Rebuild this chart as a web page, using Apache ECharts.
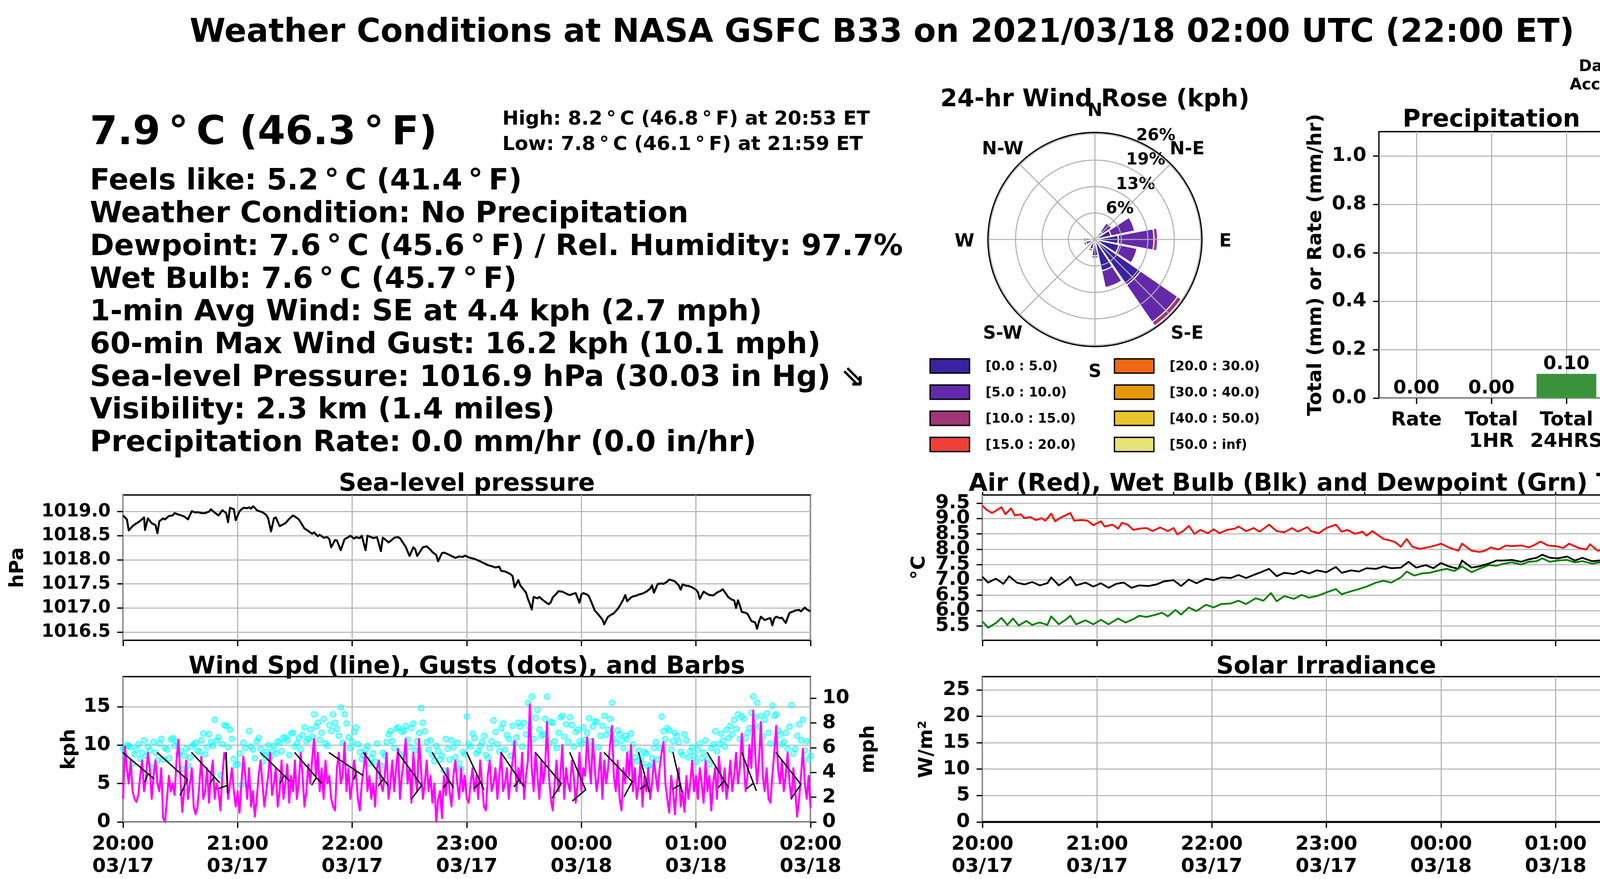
<!DOCTYPE html>
<html><head><meta charset="utf-8">
<script src="https://cdn.jsdelivr.net/npm/echarts/dist/echarts.min.js"></script>
<style>html,body{margin:0;padding:0;background:#fff}#c{width:4500px;height:2250px}</style>
</head><body><div id="c"></div><script>
// ---------------- DATA ----------------
const timeTickLabels = ['20:00\n03/17','21:00\n03/17','22:00\n03/17','23:00\n03/17','00:00\n03/18','01:00\n03/18','02:00\n03/18'];

const pressureTime = [0,2,3,5,6,8,9,11,11.5,13, 15,17,18,19,21,22,24,26,27,29, 30,32,34,36,38,39,41,43,45,46, 48,49,50,52,54,55,56,58,59,61,
 63,65,66,67,68,69,70,72,73,75, 76,77.5,79,80,82,84,85,87,89,90, 92,93,95,97,99,100,102,103,105,107, 108,109,111,112,114,116,118,119,121,122,
 124,125,127,128,130,131,133,135,136,138, 139,141,142,144,145,147,148,150,152,153, 154,156,157,159,161,162,164,165,167,168, 170,172,174,176,178,179,181,182,184,187,
 189,191,193,195,197,198,200,201,203,204, 205,207,208,209,211,212,213,214,215,217, 218,220,222,223,224,225,227,228,230,231, 233,234,236,237,239,240,241,243,244,246,
 247,249,250,251,252,253,254,256,257,259, 260,262,263,264,266,267,269,270,272,274, 276,277,278,280,282,283,285,286,288,289, 291,292,293,295,296,298,300,301,302,304,
 306,307,309,310,311,313,314,316,317,319, 320,321,322,323,324,326,327,329,331,332, 333,334,336,338,339,340,341,342,344,345, 347,348,349,351,352,354,355,357,358,360];
const pressureHpa = [1018.92,1018.84,1018.61,1018.70,1018.73,1018.78,1018.81,1018.88,1018.62,1018.86,
 1018.76,1018.72,1018.55,1018.80,1018.86,1018.84,1018.91,1018.92,1018.97,1018.94,
 1018.93,1018.90,1018.84,1019.01,1018.98,1018.99,1018.97,1018.97,1019.00,1019.05,
 1018.98,1018.95,1018.92,1019.03,1018.97,1018.78,1019.08,1019.05,1018.82,1019.01,
 1019.08,1019.07,1019.09,1019.06,1019.11,1019.08,1019.03,1019.00,1018.99,1018.93,
 1018.86,1018.59,1018.86,1018.88,1018.70,1018.74,1018.76,1018.85,1018.92,1018.90,
 1018.84,1018.78,1018.65,1018.60,1018.54,1018.57,1018.49,1018.52,1018.46,1018.47,
 1018.43,1018.26,1018.41,1018.40,1018.20,1018.43,1018.47,1018.50,1018.44,1018.47,
 1018.45,1018.50,1018.20,1018.50,1018.47,1018.45,1018.47,1018.18,1018.46,1018.40,
 1018.36,1018.42,1018.46,1018.47,1018.45,1018.33,1018.27,1018.08,1018.26,1018.22,
 1018.08,1018.20,1018.26,1018.28,1018.21,1018.16,1018.10,1017.97,1018.14,1018.15,
 1018.12,1018.08,1018.04,1018.07,1018.06,1018.09,1018.05,1018.04,1018.02,1017.97,
 1017.93,1017.89,1017.87,1017.84,1017.86,1017.77,1017.76,1017.74,1017.70,1017.66,
 1017.43,1017.58,1017.47,1017.42,1017.32,1017.19,1017.09,1016.97,1017.23,1017.20,
 1017.23,1017.16,1017.10,1017.08,1017.12,1017.22,1017.30,1017.35,1017.34,1017.32,
 1017.28,1017.27,1017.30,1017.31,1017.11,1017.28,1017.31,1017.28,1017.24,1017.05,
 1016.95,1016.86,1016.81,1016.76,1016.66,1016.75,1016.82,1016.87,1016.89,1016.98,
 1017.04,1017.18,1017.27,1017.14,1017.22,1017.24,1017.26,1017.28,1017.30,1017.34,
 1017.40,1017.47,1017.32,1017.50,1017.51,1017.50,1017.55,1017.59,1017.57,1017.55,
 1017.47,1017.38,1017.49,1017.46,1017.46,1017.43,1017.38,1017.33,1017.19,1017.34,
 1017.29,1017.27,1017.26,1017.29,1017.32,1017.36,1017.39,1017.28,1017.22,1017.17,
 1017.16,1017.00,1017.16,1017.05,1016.92,1016.90,1016.88,1016.73,1016.70,1016.57,
 1016.72,1016.82,1016.75,1016.78,1016.79,1016.64,1016.78,1016.82,1016.79,1016.80,
 1016.69,1016.80,1016.90,1016.93,1016.95,1016.96,1016.93,1017.01,1016.97,1016.93];
const pressureTicks = [1016.5,1017.0,1017.5,1018.0,1018.5,1019.0];

// wind speed, one value per minute from 20:00 (kph)
const windSpeed = [
 3,9.8,7,5,8,4,3,2.6,3.5,6,8,4,5.5,9,7,3,6,8,5,4,
 7,0.5,0,3,6,4,5,3.5,8,10.7,6,1.3,4,8,3,5,7,2,1,2,
 5,8.5,3,4,7,2.5,6,8,3,5,4,1.5,6,9,8,3,5,7,4,2,
 4,1.2,5,8.5,6,3,7,2,4,0.7,3,6,8,5,2,4,6,9,3.5,5,
 7,2,4,8,3,5,7.5,2.5,6,4,8,3,5,9,6,2,4,7.5,5,8,
 10.8,6,9,4,7,3,8,5,6,3,2,1.5,7,9,5,6,10.3,4,7,3,
 5,8,6,3,1.5,5,7,9,4,6,3,5,2,7,8,5,4,6,9,3,
 5,8,4,7,9.5,3,6,8,10.8,5,7,2.5,9,6,4,10.8,7,3,5,8,
 4,6,2.5,5,0,3,4,0.5,6,3.5,7,4,2,6,8,5,3,7,4,6,
 3,2.5,5,7,4,6,3,8,5,2,1.5,6,8,4,5,7,3,6,9,4,
 5,7,3,6,8,10.5,4,7,5,9,3,6,8,15.3,7,4,9,6,3,8,
 5,7,13,6,3,1.5,5,8,4,6,10,3,7,5,4,8,6,2.5,5,9,
 4,7,6,11,8,5,10.8,7,4,6,9,3,8,5,7,10,12.5,6,4,8,
 3,1.5,7,5,9,6,10,4,7,3,5,8,2,6,4,7,3,5,8,6,
 4,7,9,10.4,5,3,1.2,6,4,1,5,7,2,4,1.3,6,3,5,8,4,
 6,3,7,5,2.5,8,4,6,1.5,5,7,3,8.5,6,4,7,3,5,8,4,
 6,9,5,7,11.5,8,4,6,10,7,14.5,9,5,8,13,6,4,7,3,2.5,
 6,9,12.5,7,5,8,4,6,9,5,3,7,4,0.7,3,6,9.5,5,3,6,
 1.8];
// gusts at even minutes (0,2,...,360) and odd minutes (1,3,...,359), kph
const gustEvenMin = [
 9.5,10,9.7,8.8,10.1,9,8.6,9.3,10.4,8,
 10.8,9.6,8.3,10.9,10.5,9.2,8.6,7.3,9.8,10.3,
 9.1,11.5,9.7,10.4,13.3,11,10.1,12.5,12,8.2,
 7.5,4.8,9.6,11.8,9.4,10.5,9.5,8.7,10,9.2,
 8.9,10.3,11,10.6,11.5,9.8,10.9,11.3,10.5,12,
 14,12.9,11.6,10.2,12.6,14,12.1,14.9,14,11,
 10.4,12.3,9.1,8.6,9.9,8.3,7.8,6,9,10.4,
 11.8,9.6,12.3,11.7,12.5,9.8,12.8,10.5,14.8,11.8,
 9.4,8.7,9.9,8.1,6.7,9.5,10.6,8.4,7.6,9.1,
 13.7,9.8,10.9,9.2,10.4,8.7,9.6,13.2,10.1,12.2,
 9.4,10.8,12.5,11,12.4,12.9,15.5,16.3,13.5,12,
 11.4,16.3,13,10.5,11.6,13.8,12.7,13.6,9.8,12,
 10.1,10.7,13.5,12.4,13,11.2,13.8,12,15.5,10.2,
 11.4,9.6,10.8,11.5,8.4,9.3,7.6,8.9,7.4,9.6,
 8.1,13.7,10.8,11.9,10.5,11.2,9.1,11.4,8.4,9.7,
 7.8,10.2,9,8.2,9.6,11.8,10.1,10.6,12,12.5,
 13.3,14,13.7,10.9,12.2,16.3,15.5,13.8,13.3,11.6,
 15.1,14,11.3,10.4,9.5,15.2,9.5,12.7,13.3,10.5,
 8.6];
const gustOddMin = [
 8.7,9.9,7.6,9.4,8.2,10.6,9.8,7.1,9.0,10.2,
 8.1,9.4,10.7,9.9,8.8,6.9,9.5,8.4,10.1,9.3,
 10.6,8.8,11.4,9.9,10.6,6.1,12.6,9.7,10.8,7.4,
 8.9,10.3,5.6,9.8,8.3,10.9,7.8,9.1,8.4,9.9,
 10.5,9.2,10.9,8.7,11.6,10.2,9.4,12.3,10.8,11.1,
 12.4,10.7,13.4,9.9,11.8,12.9,11.2,10.3,12.8,9.6,
 11.7,10.1,8.2,9.4,7.6,8.9,10.2,7.3,8.6,11.4,
 10.5,12.1,8.8,11.9,10.7,12.2,9.3,11.6,12.9,10.4,
 10.6,7.9,9.2,8.6,10.8,8.1,9.7,10.3,6.9,8.8,
 10.2,11.5,8.9,9.9,11.2,8.3,10.5,11.7,9.2,12.8,
 11.3,8.6,10.2,12.9,9.8,11.4,12.3,10.8,14.6,11.2,
 13.4,10.3,12.9,9.6,13.6,11.1,10.4,12.6,11.7,10.5,
 12.3,11.6,10.5,13.1,9.7,12.5,11.3,13.4,10.8,11.9,
 10.6,11.2,8.9,10.1,7.9,8.4,9.1,7.2,8.3,10.4,
 9.6,11.8,12.2,9.4,11.6,10.4,8.7,10.6,9.2,8.6,
 9.4,8.3,10.6,7.5,10.1,9.2,11.5,9.8,10.9,11.4,
 12.1,10.8,13.4,11.6,14.2,13.6,12.4,11.1,14.1,10.2,
 13.8,11.9,10.1,11.6,12.4,8.9,11.2,10.6,9.3,8.1];
const barbTime  = [0,18,36,54,72,90,108,126,144,162,180,198,216,234,252,270,288,306,324,342];
const barbDir   = [130,132,137,178,134,139,124,143,144,149,155,146,140,157,136,165,167,149,159,142];
const barbSpeed = [5,10,5,5,5,5,5,5,10,5,5,5,10,10,10,5,5,5,5,10];
const barbLevel = 9;
const kphTicks = [0,5,10,15];
const mphTicks = [0,2,4,6,8,10];

const airTime = [0,2,5,7,10,12,15,17,20,22,25,28,31,33,36,38,41,44,46,48,52,55,58,62,64,68,71,73,76,79,82,86,89,93,97,100,102,105,108,111,114,118,121,124,128,132,134,138,142,145,150,154,158,162,165,170,172,176,180,185,188,191,195,199,201,204,207,210,213,216,219,222,225,229,233,237,240,244,249,251,256,260,263,266,270,274,277,282,286,289,292,296,300,304,307,312,316,318,322,326,331,334,337,341,345,349,352,356,360];
const airTemp = [9.42,9.29,9.18,9.25,9.37,9.14,9.33,9.10,9.14,9.01,9.05,8.95,9.01,8.93,9.16,8.91,9.03,9.12,9.18,8.93,8.95,8.93,8.78,8.91,8.74,8.80,8.67,8.86,8.80,8.63,8.67,8.69,8.59,8.71,8.59,8.69,8.48,8.59,8.76,8.50,8.63,8.52,8.65,8.52,8.63,8.67,8.74,8.59,8.69,8.57,8.80,8.59,8.55,8.69,8.57,8.72,8.59,8.52,8.69,8.80,8.57,8.63,8.50,8.57,8.44,8.59,8.46,8.33,8.29,8.23,8.08,8.33,8.08,8.01,8.06,8.12,8.18,8.06,7.95,8.18,7.95,7.91,7.95,8.06,7.99,8.12,8.10,8.12,8.06,8.14,8.25,8.12,8.10,8.04,8.18,8.04,7.99,8.16,7.95,7.99,7.91,7.89,8.10,7.84,7.93,8.06,7.89,7.95,7.80];
const wetTime = [0,3,7,11,14,18,22,26,30,34,36,40,44,46,49,54,58,62,66,70,74,78,82,87,91,95,100,104,108,112,117,121,125,130,134,138,142,145,150,154,158,163,167,171,175,180,185,188,193,197,201,206,210,214,219,223,227,232,236,240,244,249,251,256,260,265,269,273,277,282,286,290,293,297,301,306,310,314,319,323,327,332,337,341,345,349,354,356,360];
const wetTemp = [7.10,6.91,7.04,6.87,7.12,6.91,6.85,6.93,6.82,6.89,7.08,6.82,6.99,7.10,6.82,6.91,6.78,6.89,6.74,6.87,6.91,6.74,6.82,6.80,6.85,6.95,6.99,6.80,7.01,6.89,7.04,6.99,7.08,7.06,7.16,7.06,7.16,7.23,7.36,7.12,7.23,7.19,7.29,7.21,7.31,7.25,7.42,7.23,7.31,7.27,7.38,7.36,7.44,7.38,7.40,7.59,7.40,7.48,7.38,7.55,7.44,7.36,7.63,7.40,7.44,7.53,7.63,7.63,7.65,7.59,7.67,7.72,7.82,7.72,7.70,7.76,7.63,7.72,7.61,7.63,7.57,7.61,7.80,7.57,7.61,7.65,7.57,7.65,7.59];
const dewTime = [0,3,7,10,13,16,19,23,26,30,34,36,40,44,46,49,54,58,62,66,71,75,79,82,86,91,94,97,101,104,108,112,117,121,125,130,134,138,143,147,151,154,158,163,167,171,175,180,185,188,193,197,201,206,210,214,219,222,226,230,234,239,243,247,251,256,260,265,269,273,277,282,286,290,293,297,301,306,310,314,319,323,327,332,336,341,345,349,354,356,360];
const dewTemp = [5.64,5.44,5.59,5.76,5.53,5.74,5.51,5.66,5.53,5.61,5.53,5.81,5.55,5.72,5.83,5.55,5.68,5.55,5.70,5.55,5.74,5.61,5.72,5.83,5.79,5.87,5.93,5.81,6.02,5.87,6.10,5.98,6.19,6.10,6.21,6.23,6.32,6.21,6.40,6.32,6.57,6.30,6.47,6.38,6.51,6.42,6.47,6.59,6.70,6.53,6.63,6.70,6.78,6.91,6.97,6.91,7.08,7.27,7.14,7.21,7.23,7.31,7.36,7.29,7.44,7.25,7.36,7.48,7.46,7.53,7.57,7.50,7.59,7.61,7.70,7.59,7.63,7.65,7.57,7.61,7.53,7.57,7.48,7.53,7.61,7.48,7.53,7.57,7.50,7.55,7.48];
const celsiusTicks = [5.5,6.0,6.5,7.0,7.5,8.0,8.5,9.0,9.5];
const fahrTicks = [42,43,44,45,46,47,48,49];

const solarTime = [0,30,60,90,120,150,180,210,240,270,300,330,360];
const solarValue = [0,0,0,0,0,0,0,0,0,0,0,0,0];
const solarTicks = [0,5,10,15,20,25];

const precipCategories = ['Rate','Total\n1HR','Total\n24HRS'];
const precipValues = [0.00,0.00,0.10];
const precipMmTicks = [0,0.2,0.4,0.6,0.8,1.0];
const precipInTicks = [0,0.01,0.02,0.03,0.04];

const roseDirs = [0,22.5,45,67.5,90,112.5,135,157.5,180,202.5,225,247.5,270,292.5,315,337.5];
const roseBin0 = [0,0,2.3,4.0,5.7,6.0,13.5,7.8,4.0,2.4,0,2.3,2.2,0,0,0];
const roseBin1 = [0,0,2.6,5.9,8.7,4.5,11.0,4.2,0.5,0.5,0,0.5,0.5,0,0,0];
const roseBin2 = [0,0,0,0,0.9,0,1.1,0,0,0,0,0,0,0,0,0];
const roseBinLabels = ['[0.0 : 5.0)','[5.0 : 10.0)','[10.0 : 15.0)','[15.0 : 20.0)','[20.0 : 30.0)','[30.0 : 40.0)','[40.0 : 50.0)','[50.0 : inf)'];
const roseColors = ['#3b22a0','#6429aa','#9f3677','#ef4038','#f06814','#e6970c','#e7c42a','#e7e275'];
const roseRings = [6.45,12.9,19.35,25.8];
const roseRingLabels = ['6%','13%','19%','26%'];
const roseDirNames = ['N','N-E','E','S-E','S','S-W','W','N-W'];

const mainTitle = 'Weather Conditions at NASA GSFC B33 on 2021/03/18 02:00 UTC (22:00 ET)';
const bigTempText = '7.9\u2009°\u2009C (46.3\u2009°\u2009F)';
const highLowText = ['High: 8.2\u2009°\u2009C (46.8\u2009°\u2009F) at 20:53 ET','Low: 7.8\u2009°\u2009C (46.1\u2009°\u2009F) at 21:59 ET'];
const infoLines = [
 'Feels like: 5.2\u2009°\u2009C (41.4\u2009°\u2009F)',
 'Weather Condition: No Precipitation',
 'Dewpoint: 7.6\u2009°\u2009C (45.6\u2009°\u2009F) / Rel. Humidity: 97.7%',
 'Wet Bulb: 7.6\u2009°\u2009C (45.7\u2009°\u2009F)',
 '1-min Avg Wind: SE at 4.4 kph (2.7 mph)',
 '60-min Max Wind Gust: 16.2 kph (10.1 mph)',
 'Sea-level Pressure: 1016.9 hPa (30.03 in Hg) \u21d8',
 'Visibility: 2.3 km (1.4 miles)',
 'Precipitation Rate: 0.0 mm/hr (0.0 in/hr)'];

// ---------------- CHART ----------------
const FF = 'DejaVu Sans';
const GRIDC = '#b0b0b0';
const zip = (a,b) => a.slice(0, Math.min(a.length,b.length)).map((v,i)=>[v,b[i]]);
const lbl = (extra) => Object.assign({fontFamily:FF, fontWeight:'bold', fontSize:50, color:'#000', showMinLabel:true, showMaxLabel:true, hideOverlap:false}, extra||{});
const nameStyle = {fontFamily:FF, fontWeight:'bold', fontSize:50, color:'#000'};
const tickLine = {color:'#000', width:3.3};
const noLine = {show:false, onZero:false};
const everyOther = (arr, start) => arr.filter((v,i)=>i%2===start);

function timeAxis(g, showLabels){
  return {type:'value', gridIndex:g, min:0, max:360, interval:60,
    axisLine:noLine,
    axisTick:{show:true, length:15, lineStyle:tickLine},
    axisLabel: lbl({show:showLabels, margin:30, lineHeight:57, formatter:v=>timeTickLabels[Math.round(v/60)]}),
    splitLine:{show:true, lineStyle:{color:GRIDC, width:2.7}}};
}
function yAxisCfg(g, pos, min, max, ticks, fmt, name, gap, split, margin, fs, labelTicks){
  return {type:'value', gridIndex:g, position:pos, min:min, max:max,
    axisLine:noLine,
    axisTick:{show:true, length:15, customValues:ticks, lineStyle:tickLine},
    axisLabel: lbl({customValues:labelTicks||ticks, formatter:fmt, margin:margin, fontSize:fs||50}),
    splitLine:{show:split, lineStyle:{color:GRIDC, width:2.7}},
    name:name, nameLocation:'middle', nameGap:gap, nameRotate:90, nameTextStyle:nameStyle};
}
// extra label-only axis (used where adjacent tick labels sit closer than their font size)
function labelOnlyAxis(g, pos, min, max, labelTicks, fmt, margin){
  return {type:'value', gridIndex:g, position:pos, min:min, max:max, axisLine:noLine,
    axisTick:{show:false, customValues:labelTicks}, splitLine:{show:false},
    axisLabel: lbl({customValues:labelTicks, formatter:fmt, margin:margin})};
}
const gridBox = {show:true, borderColor:'#000', borderWidth:3.3, containLabel:false, outerBoundsMode:'none'};

const KPH_MAX = 18.9, MPH_MAX = 18.9/1.609344;
const C_MIN = 5.029, C_MAX = 9.768;
const F_MIN = C_MIN*1.8+32, F_MAX = C_MAX*1.8+32;

function roseXY(r, deg){ const a = deg*Math.PI/180; return [r*Math.sin(a), r*Math.cos(a)]; }
const ROSE_R = 26.1, ROSE_HALF = 10.4;
const roseBins = [roseBin0, roseBin1, roseBin2];
const rosePetals = [];
roseDirs.forEach((d,i)=>{ let r0=0; roseBins.forEach((bin,b)=>{ const v=bin[i]; if(v>0){ rosePetals.push([i,b,r0,r0+v]); r0+=v; } }); });

const gustPoints = gustEvenMin.map((v,i)=>[i*2,v]).concat(gustOddMin.map((v,i)=>[i*2+1,v]));
const fmtC = v=>v.toFixed(1), fmtF = v=>String(v);

const option = {
  animation:false, backgroundColor:'#fff', textStyle:{fontFamily:FF},
  grid:[
    Object.assign({left:315, top:1267, width:1760, height:372}, gridBox),
    Object.assign({left:315, top:1732, width:1760, height:372}, gridBox),
    Object.assign({left:2515, top:1267, width:1761, height:372}, gridBox),
    Object.assign({left:2515, top:1732, width:1761, height:372}, gridBox),
    Object.assign({left:3530, top:337, width:576, height:682}, gridBox),
    {left:2529, top:339, width:548, height:548, show:false, containLabel:false, outerBoundsMode:'none'}
  ],
  xAxis:[
    timeAxis(0,false),
    timeAxis(1,true),
    timeAxis(2,false),
    {type:'value', gridIndex:2, min:0, max:360, interval:50, axisLine:noLine,
      axisTick:{show:true, length:8, lineStyle:tickLine}, axisLabel:{show:false}, splitLine:{show:false}},
    timeAxis(3,true),
    {type:'value', gridIndex:4, min:-0.5, max:2.5, axisLine:noLine,
      axisTick:{show:true, length:15, customValues:[0,1,2], lineStyle:tickLine},
      axisLabel: lbl({customValues:[0,1,2], margin:30, lineHeight:55, formatter:v=>precipCategories[Math.round(v)]}),
      splitLine:{show:true, lineStyle:{color:GRIDC, width:2.7}}},
    {type:'value', gridIndex:5, min:-ROSE_R, max:ROSE_R, show:false, axisLine:noLine}
  ],
  yAxis:[
    yAxisCfg(0,'left',1016.33,1019.346,pressureTicks,v=>v.toFixed(1),'hPa',244,true,32,45.8),
    yAxisCfg(1,'left',0,KPH_MAX,kphTicks,v=>String(v),'kph',112,true,32),
    yAxisCfg(1,'right',0,MPH_MAX,mphTicks,v=>String(v),'mph',124,false,30),
    yAxisCfg(2,'left',C_MIN,C_MAX,celsiusTicks,fmtC,'°C',136,true,32,50,everyOther(celsiusTicks,0)),
    yAxisCfg(2,'right',F_MIN,F_MAX,fahrTicks,fmtF,'°F',112,false,30,50,everyOther(fahrTicks,0)),
    yAxisCfg(3,'left',0,27.5,solarTicks,v=>String(v),'W/m²',117,true,32),
    yAxisCfg(4,'left',0,1.1,precipMmTicks,v=>v.toFixed(1),'Total (mm) or Rate (mm/hr)',136,true,32),
    yAxisCfg(4,'right',0,1.1/25.4,precipInTicks,v=>v.toFixed(2),'Total (in) or Rate (in/hr)',168,false,30),
    {type:'value', gridIndex:5, min:-ROSE_R, max:ROSE_R, show:false, axisLine:noLine},
    labelOnlyAxis(2,'left',C_MIN,C_MAX,everyOther(celsiusTicks,1),fmtC,32),
    labelOnlyAxis(2,'right',F_MIN,F_MAX,everyOther(fahrTicks,1),fmtF,30)
  ],
  series:[
    {type:'line', xAxisIndex:0, yAxisIndex:0, data:zip(pressureTime,pressureHpa), showSymbol:false, symbol:'none',
      lineStyle:{color:'#000', width:5, join:'round'}},
    {type:'scatter', xAxisIndex:1, yAxisIndex:1, data:gustPoints, symbol:'circle', symbolSize:14,
      itemStyle:{color:'rgba(0,255,255,0.45)', borderColor:'rgba(0,255,255,0.8)', borderWidth:3}, z:2},
    {type:'line', xAxisIndex:1, yAxisIndex:1, data:windSpeed.map((v,i)=>[i,v]), showSymbol:false, symbol:'none',
      lineStyle:{color:'#ff00ff', width:5, join:'round'}, z:3},
    {type:'custom', xAxisIndex:1, yAxisIndex:1, z:4, silent:true,
      data:barbTime.map((t,i)=>[t, barbLevel, barbDir[i], barbSpeed[i]]),
      renderItem:(params, api)=>{
        const p = api.coord([api.value(0), api.value(1)]);
        const a = api.value(2)*Math.PI/180, spd = api.value(3);
        const ux = Math.sin(a), uy = -Math.cos(a), px = -uy, py = ux, L = 103;
        const st = {stroke:'#000', lineWidth:3.5, lineCap:'round'};
        const kids = [{type:'line', shape:{x1:p[0], y1:p[1], x2:p[0]+ux*L, y2:p[1]+uy*L}, style:st}];
        const nFull = Math.floor(spd/10), half = (spd % 10) >= 5;
        let off = L;
        for (let k=0;k<nFull;k++){
          const b = [p[0]+ux*off, p[1]+uy*off];
          kids.push({type:'line', shape:{x1:b[0], y1:b[1], x2:b[0]+px*0.4*L+ux*0.125*L, y2:b[1]+py*0.4*L+uy*0.125*L}, style:st});
          off -= 0.125*L;
        }
        if (half){
          if (nFull===0) off -= 1.5*0.125*L;
          const b = [p[0]+ux*off, p[1]+uy*off];
          kids.push({type:'line', shape:{x1:b[0], y1:b[1], x2:b[0]+px*0.2*L+ux*0.0625*L, y2:b[1]+py*0.2*L+uy*0.0625*L}, style:st});
        }
        return {type:'group', children:kids};
      }},
    {type:'line', xAxisIndex:2, yAxisIndex:3, data:zip(airTime,airTemp), showSymbol:false, symbol:'none', lineStyle:{color:'#ff0000', width:4.5, join:'round'}},
    {type:'line', xAxisIndex:2, yAxisIndex:3, data:zip(wetTime,wetTemp), showSymbol:false, symbol:'none', lineStyle:{color:'#000000', width:4.5, join:'round'}},
    {type:'line', xAxisIndex:2, yAxisIndex:3, data:zip(dewTime,dewTemp), showSymbol:false, symbol:'none', lineStyle:{color:'#008000', width:4.5, join:'round'}},
    {type:'line', xAxisIndex:4, yAxisIndex:5, data:zip(solarTime,solarValue), showSymbol:false, symbol:'none', lineStyle:{color:'#000', width:5}, clip:false},
    {type:'bar', xAxisIndex:5, yAxisIndex:6, data:precipValues.map((v,i)=>[i,v]), barWidth:153,
      itemStyle:{color:'#3a923a'},
      label:{show:true, position:'top', distance:0, formatter:p=>p.value[1].toFixed(2), fontFamily:FF, fontWeight:'bold', fontSize:48, color:'#000'}},
    // wind rose petals
    {type:'custom', xAxisIndex:6, yAxisIndex:8, z:3, silent:true, clip:false, data:rosePetals,
      renderItem:(params, api)=>{
        const i = api.value(0), b = api.value(1), r0 = api.value(2), r1 = api.value(3);
        const a = roseDirs[i], pts = [], N = 16;
        for (let k=0;k<=N;k++) pts.push(api.coord(roseXY(r1, a-ROSE_HALF+2*ROSE_HALF*k/N)));
        for (let k=N;k>=0;k--) pts.push(api.coord(roseXY(r0, a-ROSE_HALF+2*ROSE_HALF*k/N)));
        return {type:'polygon', shape:{points:pts}, style:{fill:roseColors[b], stroke:'#fff', lineWidth:3}};
      }},
    // rose spokes + direction labels
    {type:'custom', xAxisIndex:6, yAxisIndex:8, z:5, silent:true, clip:false, data:[0,1,2,3,4,5,6,7].map(k=>[k,0]),
      renderItem:(params, api)=>{
        const c = api.coord([0,0]), e = api.coord(roseXY(ROSE_R, api.value(0)*45));
        const lp = api.coord(roseXY(31.8, api.value(0)*45));
        return {type:'group', children:[
          {type:'line', shape:{x1:c[0], y1:c[1], x2:e[0], y2:e[1]}, style:{stroke:GRIDC, lineWidth:2.7}},
          {type:'text', x:lp[0], y:lp[1]+6, style:{text:roseDirNames[api.value(0)], fill:'#000', fontFamily:FF, fontWeight:'bold', fontSize:46,
            align:'center', verticalAlign:'middle', textAlign:'center', textVerticalAlign:'middle'}}]};
      }},
    // rose rings + ring labels
    {type:'custom', xAxisIndex:6, yAxisIndex:8, z:6, silent:true, clip:false, data:roseRings.map((r,i)=>[r,i]),
      renderItem:(params, api)=>{
        const r = api.value(0), i = api.value(1), pts = [];
        for (let k=0;k<=180;k++) pts.push(api.coord(roseXY(r, k*2)));
        const lp = api.coord(roseXY(r, 22.5));
        return {type:'group', children:[
          {type:'polyline', shape:{points:pts}, style:{stroke:GRIDC, lineWidth:2.7, fill:'none'}},
          {type:'text', x:lp[0]+2, y:lp[1]+6, style:{text:roseRingLabels[i], fill:'#000', fontFamily:FF, fontWeight:'bold', fontSize:42,
            align:'left', verticalAlign:'bottom', textAlign:'left', textVerticalAlign:'bottom'}}]};
      }},
    // rose outer frame
    {type:'custom', xAxisIndex:6, yAxisIndex:8, z:7, silent:true, clip:false, data:[[ROSE_R,0]],
      renderItem:(params, api)=>{
        const pts = [];
        for (let k=0;k<=180;k++) pts.push(api.coord(roseXY(api.value(0), k*2)));
        return {type:'polyline', shape:{points:pts}, style:{stroke:'#000', lineWidth:3.3, fill:'none'}};
      }}
  ],
  graphic:{elements:[]}
};

// ---------- texts ----------
const G = option.graphic.elements;
function txt(x, y, s, size, align){
  G.push({type:'text', x:x, y:y, silent:true, z:100, style:{text:s, fill:'#000', fontFamily:FF, fontWeight:'bold', fontSize:size,
    align:align||'left', verticalAlign:'middle', textAlign:align||'left', textVerticalAlign:'middle'}});
}
txt(2258, 85.5, mainTitle, 83.3, 'center');
txt(230, 342, bigTempText, 102, 'left');
txt(1286, 306, highLowText[0], 50, 'left');
txt(1286, 371, highLowText[1], 50, 'left');
infoLines.forEach((s,k)=>txt(230, 466 + 83.7*k, s, 75, 'left'));
txt(1195, 1240, 'Sea-level pressure', 62.5, 'center');
txt(1195, 1708, 'Wind Spd (line), Gusts (dots), and Barbs', 62.5, 'center');
txt(3395, 1240, 'Air (Red), Wet Bulb (Blk) and Dewpoint (Grn) Temps', 62.5, 'center');
txt(3395, 1708, 'Solar Irradiance', 62.5, 'center');
txt(3818, 308, 'Precipitation', 62.5, 'center');
txt(2803, 256, '24-hr Wind Rose (kph)', 62.5, 'center');
txt(4095, 172, 'Data', 40, 'center');
txt(4095, 219, 'Access', 40, 'center');

// rose legend
roseBinLabels.forEach((s,k)=>{
  const col = Math.floor(k/4), row = k%4;
  const sx = col ? 2853 : 2381, lx = col ? 2994 : 2523, y = 918.5 + 67*row;
  G.push({type:'rect', silent:true, z:100, shape:{x:sx, y:y, width:101, height:36.5}, style:{fill:roseColors[k], stroke:'#000', lineWidth:3.3}});
  txt(lx, y + 21, s, 33.3, 'left');
});

// QR-like access code (decorative)
const QN = 41, QS = 268.6/41, QX = 4185.4, QY = 33.7;
function qrOn(r,c){
  const fin = [[0,0],[0,34],[34,0]];
  for (const [r0,c0] of fin){
    if (r>=r0 && r<r0+7 && c>=c0 && c<c0+7){ const rr=r-r0, cc=c-c0; return rr===0||rr===6||cc===0||cc===6||(rr>=2&&rr<=4&&cc>=2&&cc<=4); }
  }
  if ((r<8&&c<8)||(r<8&&c>=33)||(r>=33&&c<8)) return false;
  if (r>=32&&r<=36&&c>=32&&c<=36){ const d=Math.max(Math.abs(r-34),Math.abs(c-34)); return d!==1; }
  if (r===6) return c%2===0;
  if (c===6) return r%2===0;
  const h = (((r+3)*2654435761) ^ ((c+7)*40503) ^ (r*c*97)) >>> 0;
  return ((h >>> 5) % 9) < 4;
}
for (let r=0;r<QN;r++){
  let c=0;
  while(c<QN){
    if (qrOn(r,c)){ let c2=c; while(c2<QN && qrOn(r,c2)) c2++;
      G.push({type:'rect', silent:true, z:100, shape:{x:QX+c*QS, y:QY+r*QS, width:(c2-c)*QS+0.4, height:QS+0.4}, style:{fill:'#3636ff'}});
      c=c2; } else c++;
  }
}

const chart = echarts.init(document.getElementById('c'), null, {renderer:'canvas', width:4500, height:2250});
chart.setOption(option);
</script></body></html>
